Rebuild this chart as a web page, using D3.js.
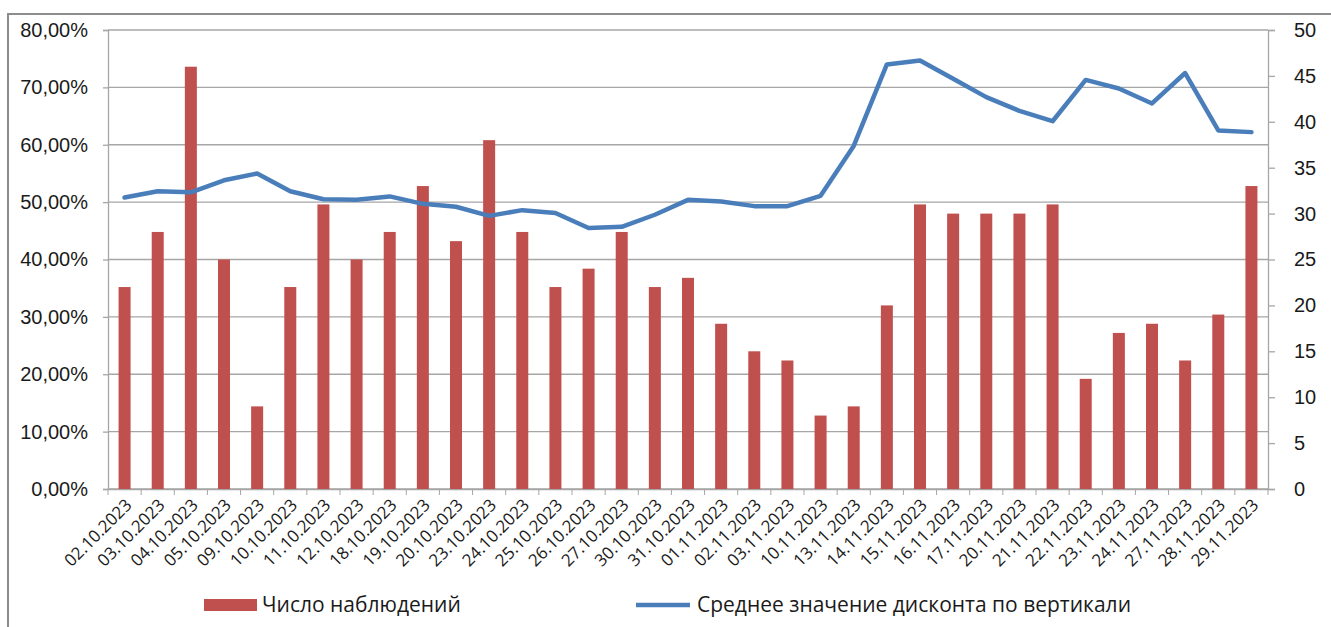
<!DOCTYPE html>
<html>
<head>
<meta charset="utf-8">
<script src="https://cdn.jsdelivr.net/npm/d3@7"></script>
<style>
  body { margin: 0; background: #fff; }
  svg { display: block; font-family: "Open Sans", sans-serif; }
</style>
</head>
<body>
<div id="chart"></div>
<script>
// dates on the x axis
const dates = [
  "02.10.2023", "03.10.2023", "04.10.2023", "05.10.2023", "09.10.2023",
  "10.10.2023", "11.10.2023", "12.10.2023", "18.10.2023", "19.10.2023",
  "20.10.2023", "23.10.2023", "24.10.2023", "25.10.2023", "26.10.2023",
  "27.10.2023", "30.10.2023", "31.10.2023", "01.11.2023", "02.11.2023",
  "03.11.2023", "10.11.2023", "13.11.2023", "14.11.2023", "15.11.2023",
  "16.11.2023", "17.11.2023", "20.11.2023", "21.11.2023", "22.11.2023",
  "23.11.2023", "24.11.2023", "27.11.2023", "28.11.2023", "29.11.2023"
];

// number of observations (right axis)
const counts = [
  22, 28, 46, 25, 9, 22, 31, 25, 28, 33,
  27, 38, 28, 22, 24, 28, 22, 23, 18, 15,
  14, 8, 9, 20, 31, 30, 30, 30, 31, 12,
  17, 18, 14, 19, 33
];

// average discount, % (left axis)
const discount = [
  50.8, 51.9, 51.7, 53.8, 55.0, 51.9, 50.5, 50.4, 51.0, 49.7,
  49.2, 47.6, 48.6, 48.1, 45.5, 45.7, 47.8, 50.4, 50.1, 49.3,
  49.3, 51.1, 59.8, 74.0, 74.7, 71.5, 68.3, 65.9, 64.1, 71.3,
  69.8, 67.2, 72.5, 62.5, 62.2
];

const leftTicks = [0, 10, 20, 30, 40, 50, 60, 70, 80];
const rightTicks = [0, 5, 10, 15, 20, 25, 30, 35, 40, 45, 50];

const barName = "Число наблюдений";
const lineName = "Среднее значение дисконта по вертикали";

const width = 1331, height = 627;
const margin = {top: 30, right: 63, bottom: 138, left: 108};
const barColor = "#C0504D", lineColor = "#4A7EBB", gridColor = "#A6A6A6";
const textColor = "#1a1a1a";

const svg = d3.select("#chart").append("svg")
    .attr("width", width)
    .attr("height", height);

// outer frame (only top and left edges visible)
svg.append("path")
    .attr("d", `M8,${height} V14 H${width}`)
    .attr("fill", "none")
    .attr("stroke", "#8C8C8C")
    .attr("stroke-width", 2);

const x = d3.scaleBand()
    .domain(dates)
    .range([margin.left, width - margin.right]);

const yLeft = d3.scaleLinear()
    .domain([0, 80])
    .range([height - margin.bottom, margin.top]);

const yRight = d3.scaleLinear()
    .domain([0, 50])
    .range([height - margin.bottom, margin.top]);

// gridlines follow the left axis
svg.append("g")
    .selectAll("line")
    .data(leftTicks)
    .join("line")
      .attr("x1", margin.left)
      .attr("x2", width - margin.right)
      .attr("y1", d => yLeft(d))
      .attr("y2", d => yLeft(d))
      .attr("stroke", gridColor)
      .attr("stroke-width", 1.3);

// left axis
const leftAxis = svg.append("g")
    .attr("transform", `translate(${margin.left},0)`)
    .call(d3.axisLeft(yLeft)
      .tickValues(leftTicks)
      .tickSize(5)
      .tickPadding(15)
      .tickFormat(d => d3.format(".2f")(d).replace(".", ",") + "%"));

// right axis
const rightAxis = svg.append("g")
    .attr("transform", `translate(${width - margin.right},0)`)
    .call(d3.axisRight(yRight)
      .tickValues(rightTicks)
      .tickSize(7)
      .tickPadding(19));

// bottom axis: ticks on category boundaries
const bottom = height - margin.bottom;
const xAxis = svg.append("g")
    .attr("transform", `translate(0,${bottom})`)
    .call(d3.axisBottom(x).tickSize(0).tickFormat(""));
xAxis.selectAll(".tick").remove();
xAxis.append("g")
  .selectAll("line")
  .data(d3.range(dates.length + 1))
  .join("line")
    .attr("x1", i => margin.left + i * x.step())
    .attr("x2", i => margin.left + i * x.step())
    .attr("y1", 0)
    .attr("y2", 6)
    .attr("stroke", gridColor);

[leftAxis, rightAxis, xAxis].forEach(g => {
  g.select(".domain").attr("stroke", gridColor).attr("stroke-width", 1.3);
  g.selectAll(".tick line").attr("stroke", gridColor).attr("stroke-width", 1.3);
  g.selectAll(".tick text")
      .attr("fill", textColor)
      .style("font-size", "20px");
});

// rotated date labels
svg.append("g")
  .selectAll("text")
  .data(dates)
  .join("text")
    .attr("transform", d => `translate(${x(d) + x.bandwidth() / 2 + 4},${bottom + 13}) rotate(-45)`)
    .attr("text-anchor", "end")
    .attr("dy", "0.35em")
    .attr("fill", textColor)
    .style("font-size", "17px")
    .text(d => d);

// bars
const barW = 12;
svg.append("g")
  .selectAll("rect")
  .data(counts)
  .join("rect")
    .attr("x", (d, i) => x(dates[i]) + x.bandwidth() / 2 - barW / 2)
    .attr("y", d => yRight(d))
    .attr("width", barW)
    .attr("height", d => yRight(0) - yRight(d))
    .attr("fill", barColor);

// line
const line = d3.line()
    .x((d, i) => x(dates[i]) + x.bandwidth() / 2)
    .y(d => yLeft(d));

svg.append("path")
    .datum(discount)
    .attr("d", line)
    .attr("fill", "none")
    .attr("stroke", lineColor)
    .attr("stroke-width", 4.5)
    .attr("stroke-linejoin", "round")
    .attr("stroke-linecap", "round");

// legend
const legend = svg.append("g").style("font-size", "21px").attr("fill", textColor);
legend.append("rect")
    .attr("x", 204).attr("y", 599)
    .attr("width", 53).attr("height", 12)
    .attr("fill", barColor);
legend.append("text")
    .attr("x", 262).attr("y", 612)
    .text(barName);
legend.append("line")
    .attr("x1", 636).attr("x2", 690)
    .attr("y1", 605).attr("y2", 605)
    .attr("stroke", lineColor)
    .attr("stroke-width", 4.5);
legend.append("text")
    .attr("x", 697).attr("y", 612)
    .text(lineName);
</script>
</body>
</html>
